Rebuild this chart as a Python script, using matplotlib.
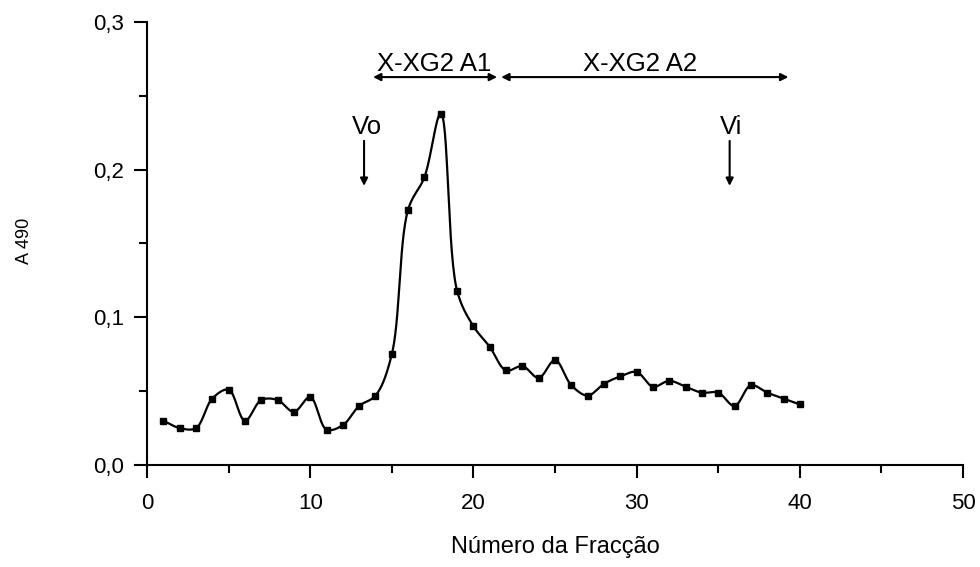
import numpy as np
import matplotlib
matplotlib.use("Agg")
import matplotlib.pyplot as plt

plt.rcParams['font.family'] = ['Liberation Sans', 'DejaVu Sans']

fraction = list(range(1, 41))
a490 = [0.030, 0.025, 0.025, 0.045, 0.051, 0.030, 0.044, 0.044, 0.036, 0.046,
        0.024, 0.027, 0.040, 0.047, 0.075, 0.173, 0.195, 0.238, 0.118, 0.094,
        0.080, 0.064, 0.067, 0.059, 0.071, 0.054, 0.047, 0.055, 0.060, 0.063,
        0.053, 0.057, 0.053, 0.049, 0.049, 0.040, 0.054, 0.049, 0.045, 0.041]

xticks = [0, 10, 20, 30, 40, 50]
yticks = [0.0, 0.1, 0.2, 0.3]
ytick_labels = ["0,0", "0,1", "0,2", "0,3"]

XLIM = (0, 50)
YLIM = (0, 0.3)
FIG_W, FIG_H, DPI = 9.8, 5.67, 100
AX_RECT = [0.15, 0.1799, 0.8327, 0.7813]


def centripetal_cr(x, y, sx, sy, n=30, alpha=0.5):
    """Centripetal Catmull-Rom spline evaluated in screen-like coordinates."""
    P = np.column_stack([np.asarray(x, float) * sx, np.asarray(y, float) * sy])
    P = np.vstack([2 * P[0] - P[1], P, 2 * P[-1] - P[-2]])
    out = []
    for i in range(1, len(P) - 2):
        p0, p1, p2, p3 = P[i - 1], P[i], P[i + 1], P[i + 2]
        t0 = 0.0
        t1 = t0 + np.linalg.norm(p1 - p0) ** alpha
        t2 = t1 + np.linalg.norm(p2 - p1) ** alpha
        t3 = t2 + np.linalg.norm(p3 - p2) ** alpha
        t = np.linspace(t1, t2, n, endpoint=False)[:, None]
        a1 = (t1 - t) / (t1 - t0) * p0 + (t - t0) / (t1 - t0) * p1
        a2 = (t2 - t) / (t2 - t1) * p1 + (t - t1) / (t2 - t1) * p2
        a3 = (t3 - t) / (t3 - t2) * p2 + (t - t2) / (t3 - t2) * p3
        b1 = (t2 - t) / (t2 - t0) * a1 + (t - t0) / (t2 - t0) * a2
        b2 = (t3 - t) / (t3 - t1) * a2 + (t - t1) / (t3 - t1) * a3
        c = (t2 - t) / (t2 - t1) * b1 + (t - t1) / (t2 - t1) * b2
        out.append(c)
    out.append(P[-2][None, :])
    out = np.vstack(out)
    return out[:, 0] / sx, out[:, 1] / sy


fig = plt.figure(figsize=(FIG_W, FIG_H), dpi=DPI)
ax = fig.add_axes(AX_RECT)

# pixels per data unit, so smoothing is done in screen space
sx = AX_RECT[2] * FIG_W * DPI / (XLIM[1] - XLIM[0])
sy = AX_RECT[3] * FIG_H * DPI / (YLIM[1] - YLIM[0])
cx, cy = centripetal_cr(fraction, a490, sx, sy)
ax.plot(cx, cy, color='black', lw=1.6)
ax.plot(fraction, a490, linestyle='none', marker='s', markersize=5,
        color='black')

ax.set_xlim(*XLIM)
ax.set_ylim(*YLIM)
ax.set_xticks(xticks)
ax.set_xticks([5, 15, 25, 35, 45], minor=True)
ax.set_yticks(yticks)
ax.set_yticklabels(ytick_labels)
ax.set_yticks([0.05, 0.15, 0.25], minor=True)
for s in ['top', 'right']:
    ax.spines[s].set_visible(False)
for s in ['left', 'bottom']:
    ax.spines[s].set_linewidth(1.5)
ax.tick_params(which='major', direction='out', length=9.5, width=1.5,
               labelsize=16)
ax.tick_params(which='minor', direction='out', length=5.5, width=1.5)
ax.tick_params(axis='x', which='major', pad=11)
ax.tick_params(axis='y', which='major', pad=7)

fig.text(AX_RECT[0] + AX_RECT[2] / 2, 0.035, "Número da Fracção",
         ha='center', va='center', fontsize=17)
fig.text(0.025, 0.575, "A 490", ha='center', va='center', rotation=90, fontsize=13)

arrowprops = dict(arrowstyle='<|-|>', color='black', lw=1.5,
                  mutation_scale=11, shrinkA=0, shrinkB=0)
ax.annotate('', xy=(13.85, 0.2627), xytext=(21.45, 0.2627), arrowprops=arrowprops)
ax.annotate('', xy=(21.7, 0.2627), xytext=(39.3, 0.2627), arrowprops=arrowprops)
ax.text(17.6, 0.2715, "X-XG2 A1", ha='center', va='center', fontsize=18.5)
ax.text(30.2, 0.2715, "X-XG2 A2", ha='center', va='center', fontsize=18.5)

down = dict(arrowstyle='-|>', color='black', lw=1.5, mutation_scale=11,
            shrinkA=0, shrinkB=0)
ax.text(13.45, 0.229, "Vo", ha='center', va='center', fontsize=18.5)
ax.annotate('', xy=(13.3, 0.189), xytext=(13.3, 0.2195), arrowprops=down)
ax.text(35.8, 0.229, "Vi", ha='center', va='center', fontsize=18.5)
ax.annotate('', xy=(35.7, 0.189), xytext=(35.7, 0.2195), arrowprops=down)

fig.savefig("out.png", dpi=DPI)
